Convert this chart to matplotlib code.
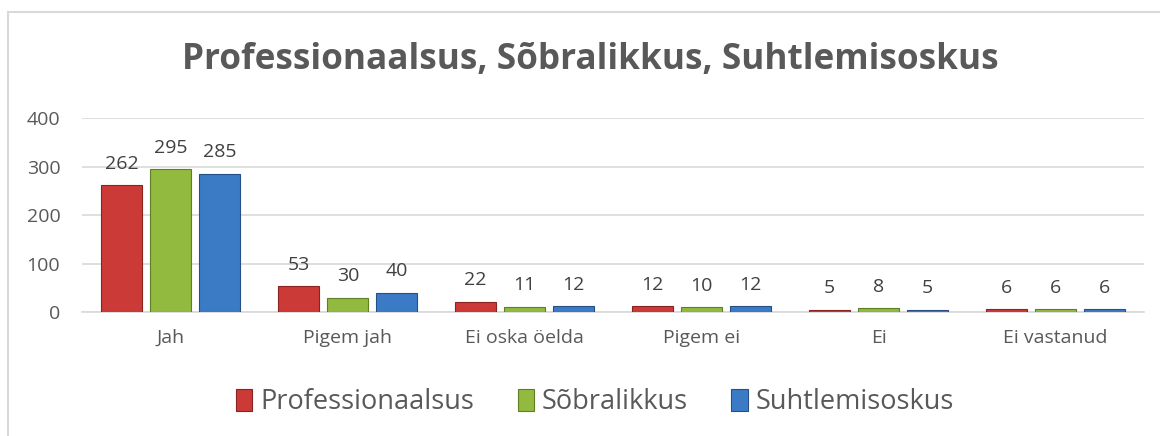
import matplotlib.pyplot as plt
import numpy as np
from matplotlib.patches import Rectangle

categories = ['Jah', 'Pigem jah', 'Ei oska öelda', 'Pigem ei', 'Ei', 'Ei vastanud']
series_names = ['Professionaalsus', 'Sõbralikkus', 'Suhtlemisoskus']
professionaalsus = [262, 53, 22, 12, 5, 6]
sobralikkus = [295, 30, 11, 10, 8, 6]
suhtlemisoskus = [285, 40, 12, 12, 5, 6]
yticks = [0, 100, 200, 300, 400]

colors = ['#CC3A38', '#92BA3E', '#3B7BC6']
edges = ['#8A2220', '#5F7F24', '#254F86']
text_gray = '#595959'
font = 'Open Sans'

fig = plt.figure(figsize=(11.6, 4.36), dpi=100)
ax = fig.add_axes([0.0711, 0.284, 0.915, 0.445])

x = np.arange(len(categories))
width = 0.232
step = 0.277
for i, vals in enumerate([professionaalsus, sobralikkus, suhtlemisoskus]):
    pos = x + (i - 1) * step
    ax.bar(pos, vals, width, color=colors[i], edgecolor=edges[i], linewidth=0.8,
           label=series_names[i], zorder=3)
    for px, v in zip(pos, vals):
        ax.annotate(str(v), (px, v), xytext=(0, 9), textcoords='offset points',
                    ha='center', va='bottom', fontsize=14, color='#404040',
                    family=font)

ax.set_xlim(-0.5, len(categories) - 0.5)
ax.set_ylim(0, 400)
ax.set_yticks(yticks)
ax.set_xticks(x)
ax.set_xticklabels(categories)
ax.tick_params(axis='both', length=0, labelsize=14, colors=text_gray)
ax.tick_params(axis='y', pad=16)
ax.tick_params(axis='x', pad=12)
for lab in ax.get_xticklabels() + ax.get_yticklabels():
    lab.set_family(font)
ax.grid(axis='y', color='#D9D9D9', linewidth=1.2, zorder=0)
for s in ['top', 'right', 'left']:
    ax.spines[s].set_visible(False)
ax.spines['bottom'].set_color('#D9D9D9')
ax.spines['bottom'].set_linewidth(1.2)

fig.text(0.509, 0.862, 'Professionaalsus, Sõbralikkus, Suhtlemisoskus',
         ha='center', va='center', fontsize=25.3, fontweight='bold',
         color=text_gray, family=font)

leg = fig.legend(loc='center', bbox_to_anchor=(0.513, 0.077), ncol=3,
                 frameon=False, prop={'family': font, 'size': 19.5},
                 handlelength=0.6, handleheight=0.9, handletextpad=0.3,
                 columnspacing=1.6, labelcolor=text_gray)

fig.patches.append(Rectangle((8 / 1160, -0.1), 1.2, (436 - 12) / 436 + 0.1,
                             transform=fig.transFigure, fill=False,
                             edgecolor='#D9D9D9', linewidth=1.5))

fig.savefig('out.png', dpi=100)
